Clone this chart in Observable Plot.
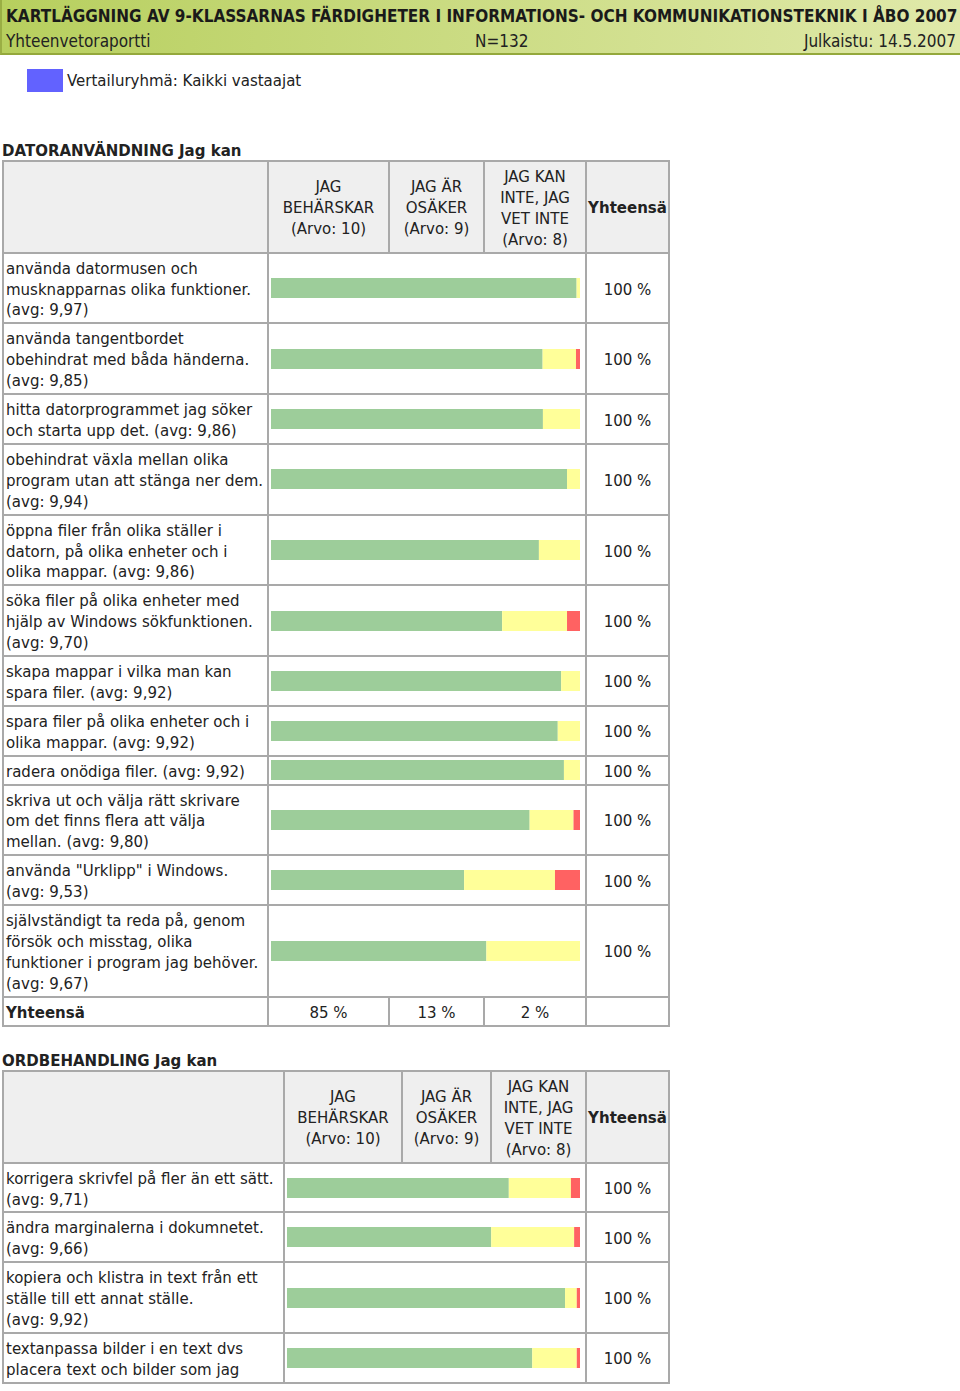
<!DOCTYPE html>
<html>
<head>
<meta charset="utf-8">
<script src="https://cdn.jsdelivr.net/npm/d3@7"></script>
<script src="https://cdn.jsdelivr.net/npm/@observablehq/plot@0.6"></script>
<style>
  html, body { margin:0; padding:0; background:#fff; width:960px; height:1391px; overflow:hidden; }
  body { font-family: "DejaVu Sans", Verdana, sans-serif; font-size:15px; color:#222; position:relative; }
  #band { position:absolute; left:0; top:0; width:960px; height:55px; border-left:2px solid #9aae44; border-bottom:2px solid #94a83c;
          background: linear-gradient(to right, #b7cf5e, #e0e9aa); box-sizing:border-box; overflow:hidden;
          font-family:"DejaVu Sans Condensed", "DejaVu Sans", sans-serif; }
  #title { position:absolute; left:4px; top:6px; white-space:nowrap; font-weight:bold; font-size:17px; color:#1a1a1a; }
  #sub { position:absolute; left:4px; top:31px; width:950px; white-space:nowrap; font-size:17px; color:#222; }
  #sub span { position:absolute; top:0; }
  #legend { position:absolute; left:27px; top:69px; }
  #legend .sq { position:absolute; left:0; top:0; width:36px; height:23px; background:#6262ff; }
  #legend .tx { position:absolute; left:40px; top:3px; white-space:nowrap; }
  .sec { position:absolute; left:2px; }
  .sec h2 { margin:0; font-size:15px; font-weight:bold; line-height:18px; height:18px; padding-top:2px; }
  table { border-collapse:collapse; table-layout:fixed; }
  td { border:2px solid #a9a9a9; padding:5px 2px 1px 2px; line-height:20.9px; vertical-align:middle; }
  tr.head td { background:#efefef; text-align:center; }
  td.lab { white-space:pre-line; }
  td.bar { padding:0 2px; }
  td.bar svg { display:block; }
  td.tot { text-align:center; }
  .b { font-weight:bold; }
</style>
</head>
<body>
<div id="band">
  <div id="title"></div>
  <div id="sub"></div>
</div>
<div id="legend"><div class="sq"></div><div class="tx"></div></div>
<div id="sections"></div>
<script>
// ---------- data ----------
const reportTitle = "KARTLÄGGNING AV 9-KLASSARNAS FÄRDIGHETER I INFORMATIONS- OCH KOMMUNIKATIONSTEKNIK I ÅBO 2007";
const reportType = "Yhteenvetoraportti";
const reportN = "N=132";
const reportDate = "Julkaistu: 14.5.2007";
const legendText = "Vertailuryhmä: Kaikki vastaajat";

const categories = ["JAG\nBEHÄRSKAR\n(Arvo: 10)", "JAG ÄR\nOSÄKER\n(Arvo: 9)", "JAG KAN\nINTE, JAG\nVET INTE\n(Arvo: 8)"];
const categoryColors = ["#9dcd9a", "#ffff99", "#ff6262"];
const totalHeader = "Yhteensä";
const rowTotal = "100 %";

const sec1Title = "DATORANVÄNDNING Jag kan";
const sec1Labels = [
  "använda datormusen och\nmusknapparnas olika funktioner.\n(avg: 9,97)",
  "använda tangentbordet\nobehindrat med båda händerna.\n(avg: 9,85)",
  "hitta datorprogrammet jag söker\noch starta upp det. (avg: 9,86)",
  "obehindrat växla mellan olika\nprogram utan att stänga ner dem.\n(avg: 9,94)",
  "öppna filer från olika ställer i\ndatorn, på olika enheter och i\nolika mappar. (avg: 9,86)",
  "söka filer på olika enheter med\nhjälp av Windows sökfunktionen.\n(avg: 9,70)",
  "skapa mappar i vilka man kan\nspara filer. (avg: 9,92)",
  "spara filer på olika enheter och i\nolika mappar. (avg: 9,92)",
  "radera onödiga filer. (avg: 9,92)",
  "skriva ut och välja rätt skrivare\nom det finns flera att välja\nmellan. (avg: 9,80)",
  "använda \"Urklipp\" i Windows.\n(avg: 9,53)",
  "självständigt ta reda på, genom\nförsök och misstag, olika\nfunktioner i program jag behöver.\n(avg: 9,67)"
];
const sec1Master  = [98.9, 87.9, 88.0, 95.8, 86.7, 74.8, 93.9, 92.8, 94.8, 83.7, 62.5, 69.7];
const sec1Unsure  = [ 1.1, 10.8, 12.0,  4.2, 13.3, 21.0,  6.1,  7.2,  5.2, 14.2, 29.4, 30.3];
const sec1Cannot  = [ 0.0,  1.3,  0.0,  0.0,  0.0,  4.2,  0.0,  0.0,  0.0,  2.1,  8.1,  0.0];
const sec1Totals  = ["85 %", "13 %", "2 %"];

const sec2Title = "ORDBEHANDLING Jag kan";
const sec2Labels = [
  "korrigera skrivfel på fler än ett sätt.\n(avg: 9,71)",
  "ändra marginalerna i dokumnetet.\n(avg: 9,66)",
  "kopiera och klistra in text från ett\nställe till ett annat ställe.\n(avg: 9,92)",
  "textanpassa bilder i en text dvs\nplacera text och bilder som jag"
];
const sec2Master = [75.7, 69.7, 94.9, 83.7];
const sec2Unsure = [21.2, 28.3,  4.0, 15.2];
const sec2Cannot = [ 3.1,  2.0,  1.1,  1.1];
const sec2Totals = null;

// ---------- header ----------
document.getElementById("title").textContent = reportTitle;
const sub = document.getElementById("sub");
[[reportType, "left:0"], [reportN, "left:469px"], [reportDate, "right:0"]].forEach(([t, s]) => {
  const sp = document.createElement("span"); sp.textContent = t; sp.style.cssText = s; sub.appendChild(sp);
});
document.querySelector("#legend .tx").textContent = legendText;

// ---------- sections ----------
function bar(values, width) {
  const rows = categories.map((c, i) => ({cat: c, value: values[i]}));
  return Plot.plot({
    width, height: 20, margin: 0,
    x: {domain: [0, 100], axis: null},
    color: {domain: categories, range: categoryColors},
    style: {background: "transparent"},
    marks: [Plot.barX(rows, {x: "value", fill: "cat"})]
  });
}

function section(top, title, labels, master, unsure, cannot, totals, cols, barWidth) {
  const div = document.createElement("div");
  div.className = "sec"; div.style.top = top + "px";
  const h = document.createElement("h2"); h.textContent = title; div.appendChild(h);
  const tb = document.createElement("table");
  tb.style.width = d3.sum(cols) + "px";
  const cg = document.createElement("colgroup");
  cols.forEach(w => { const c = document.createElement("col"); c.style.width = w + "px"; cg.appendChild(c); });
  tb.appendChild(cg);
  const hr = tb.insertRow(); hr.className = "head";
  hr.insertCell();
  categories.forEach(c => { const td = hr.insertCell(); td.style.whiteSpace = "pre-line"; td.textContent = c; });
  const th = hr.insertCell(); th.className = "b"; th.textContent = totalHeader; th.style.paddingLeft = "0"; th.style.paddingRight = "0";
  labels.forEach((l, i) => {
    const r = tb.insertRow();
    const a = r.insertCell(); a.className = "lab"; a.textContent = l;
    const b = r.insertCell(); b.className = "bar"; b.colSpan = 3;
    b.appendChild(bar([master[i], unsure[i], cannot[i]], barWidth));
    const t = r.insertCell(); t.className = "tot"; t.textContent = rowTotal;
  });
  if (totals) {
    const r = tb.insertRow();
    const a = r.insertCell(); a.className = "b"; a.textContent = totalHeader;
    totals.forEach(v => { const td = r.insertCell(); td.className = "tot"; td.textContent = v; });
    r.insertCell();
  }
  div.appendChild(tb);
  document.getElementById("sections").appendChild(div);
}

section(140, sec1Title, sec1Labels, sec1Master, sec1Unsure, sec1Cannot, sec1Totals, [265, 121, 95, 102, 83], 309);
section(1050, sec2Title, sec2Labels, sec2Master, sec2Unsure, sec2Cannot, sec2Totals, [281, 118, 89, 95, 83], 293);
</script>
</body>
</html>
